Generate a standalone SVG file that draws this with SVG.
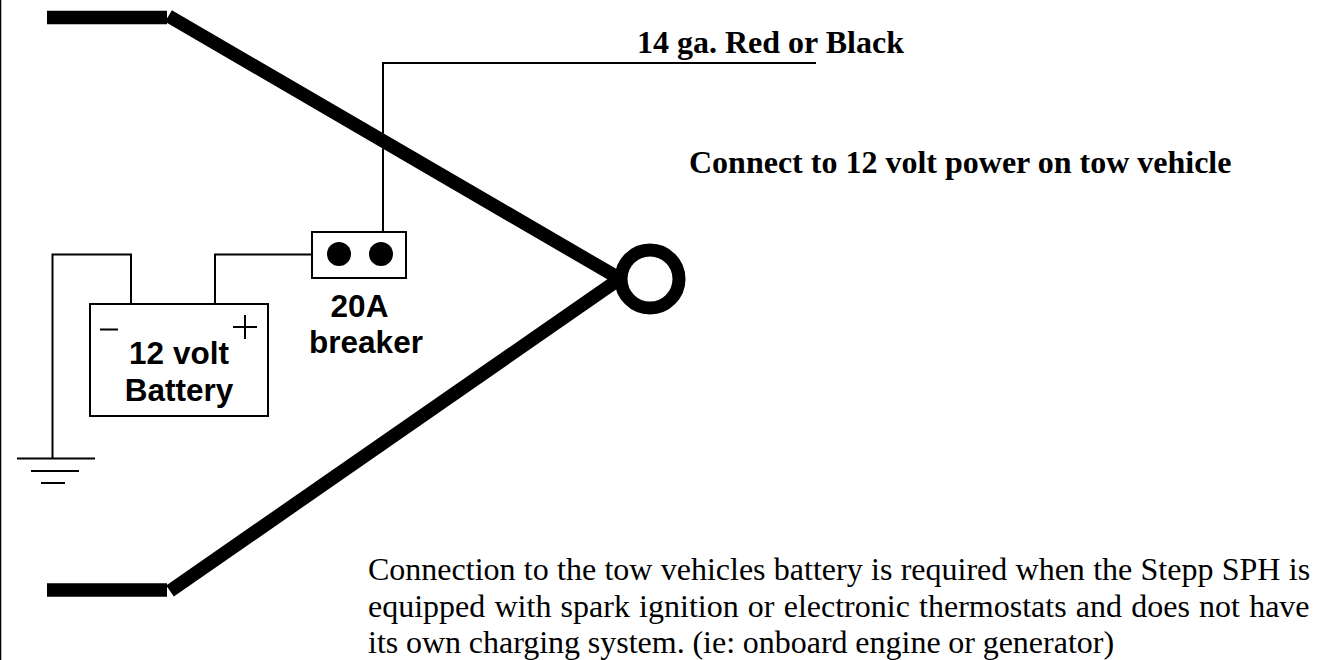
<svg xmlns="http://www.w3.org/2000/svg" width="1318" height="660" viewBox="0 0 1318 660">
<style>
.w{fill:none;stroke:#000;stroke-width:2}
.t{fill:none;stroke:#000;stroke-width:13.500}
.s{font-family:"Liberation Sans",Arial,sans-serif;font-weight:bold;font-size:31.500px;fill:#000;text-anchor:middle}
.h{font-family:"Liberation Serif","Times New Roman",serif;font-weight:bold;font-size:32px;fill:#000}
.b{font-family:"Liberation Serif","Times New Roman",serif;font-size:32px;fill:#000}
</style>
<rect width="1318" height="660" fill="#fff"/>
<line x1="0.5" y1="0" x2="0.5" y2="660" stroke="#000" stroke-width="1.5"/>
<g id="connectors">
<path class="t" d="M47 17.500H167"/>
<path class="t" d="M47 590H167"/>
<path class="t" d="M168.500 16L618 277.700"/>
<path class="t" d="M170 591L618 280"/>
<path class="w" d="M383 232V63H816"/>
<path class="w" d="M312 254.500H215V304"/>
<path class="w" d="M131 304V254.500H52.500V458"/>
</g>
<g id="ring"><circle cx="650" cy="279" r="29" fill="#fff" stroke="#000" stroke-width="13"/></g>
<g id="battery">
<rect class="w" x="90" y="304" width="178" height="112" fill="#fff"/>
<path class="w" d="M100 329.500H118M233 327H257M245 315V339"/>
<text class="s" x="179" y="364">12 volt</text>
<text class="s" x="179" y="401">Battery</text>
</g>
<g id="breaker">
<rect class="w" x="312" y="232" width="94" height="46"/>
<circle cx="339" cy="254" r="12"/>
<circle cx="381" cy="254" r="12"/>
<text class="s" x="359.500" y="317">20A</text>
<text class="s" x="366" y="353">breaker</text>
</g>
<g id="ground"><path class="w" d="M17 458.500H95M31 471H79M41 483H65"/></g>
<text class="h" x="637" y="53">14 ga. Red or Black</text>
<text class="h" x="689" y="173">Connect to 12 volt power on tow vehicle</text>
<text class="b" x="368" y="580" word-spacing="0.3">Connection to the tow vehicles battery is required when the Stepp SPH is</text>
<text class="b" x="368" y="616.500" word-spacing="1.2">equipped with spark ignition or electronic thermostats and does not have</text>
<text class="b" x="368" y="653" word-spacing="-0.3">its own charging system. (ie: onboard engine or generator)</text>
</svg>
